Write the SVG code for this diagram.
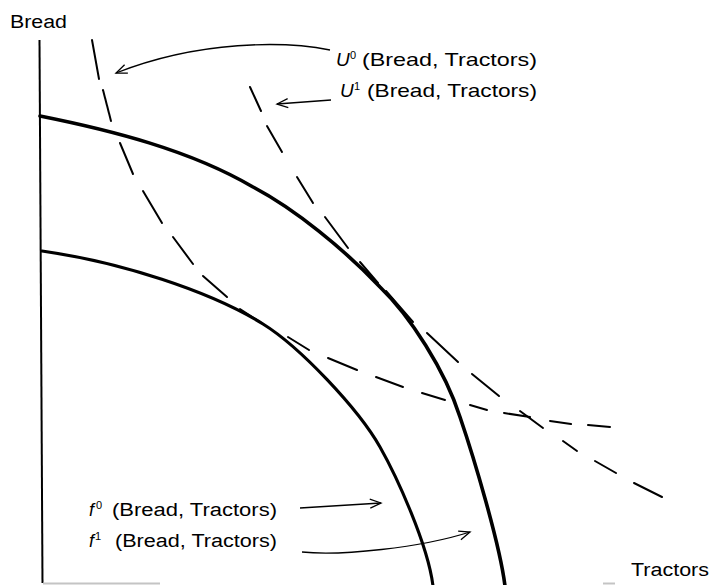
<svg xmlns="http://www.w3.org/2000/svg" width="713" height="585" viewBox="0 0 713 585">
<style>
.axis{fill:none;stroke:#000;stroke-width:2}
.faint{fill:none;stroke:#c4c4c4;stroke-width:2}
.ppf{fill:none;stroke:#000;stroke-linecap:round}
.dash{fill:none;stroke:#000;stroke-width:2;stroke-linecap:round}
.arr{fill:none;stroke:#000;stroke-width:1.3;marker-end:url(#ah)}
.lbl{font-family:"Liberation Sans",Arial,Helvetica,sans-serif;fill:#000}
.it{font-style:italic}
</style>
<defs>
<marker id="ah" markerUnits="userSpaceOnUse" markerWidth="14" markerHeight="12" viewBox="-12 -6 14 12" refX="0" refY="0" orient="auto">
<path d="M-11,-4.5 L0,0 L-11,4.5" fill="none" stroke="#000" stroke-width="1.3"/>
</marker>
</defs>

<g id="axes">
<line class="axis" x1="39.5" y1="40" x2="42.5" y2="583"/>
<line class="faint" x1="43" y1="583.5" x2="160" y2="583.5"/>
<line class="faint" x1="603" y1="583.5" x2="615" y2="583.5"/>
<text class="lbl" x="10" y="28" font-size="18" textLength="57" lengthAdjust="spacingAndGlyphs">Bread</text>
<text class="lbl" x="631" y="576" font-size="18" textLength="78" lengthAdjust="spacingAndGlyphs">Tractors</text>
</g>

<g id="f1-curve">
<path class="ppf" stroke-width="3.6" d="M40,116 C110,130 190,150 253,187 C295,209 345,250 380,287 C410,316 445,370 460,417 C474,458 500,545 505,586"/>
</g>
<g id="f0-curve">
<path class="ppf" stroke-width="3.1" d="M42,251 C120,262 210,291 263,324 C300,347 358,408.5 380,447 C397,477 428,545 433,586"/>
</g>

<g id="U0-curve">
<line class="dash" x1="92" y1="40" x2="99" y2="79"/>
<line class="dash" x1="103" y1="90" x2="111" y2="121"/>
<line class="dash" x1="120" y1="143" x2="133" y2="174"/>
<line class="dash" x1="143" y1="191" x2="162" y2="223"/>
<line class="dash" x1="173" y1="237" x2="193" y2="264"/>
<line class="dash" x1="203" y1="276" x2="227" y2="297"/>
<line class="dash" x1="240" y1="309" x2="263" y2="324"/>
<line class="dash" x1="288" y1="337" x2="309" y2="350"/>
<line class="dash" x1="328" y1="358" x2="357" y2="370"/>
<line class="dash" x1="376" y1="377" x2="403" y2="387"/>
<line class="dash" x1="422" y1="393" x2="445" y2="400"/>
<line class="dash" x1="470" y1="405" x2="487" y2="410"/>
<line class="dash" x1="504" y1="413" x2="530" y2="417"/>
<line class="dash" x1="550" y1="421" x2="571" y2="424"/>
<line class="dash" x1="588" y1="425" x2="610" y2="427"/>
</g>

<g id="U1-curve">
<line class="dash" x1="250" y1="87" x2="261" y2="111"/>
<line class="dash" x1="267" y1="126" x2="282" y2="152"/>
<line class="dash" x1="297" y1="177" x2="313" y2="203"/>
<line class="dash" x1="325" y1="217" x2="348" y2="248"/>
<line class="dash" x1="360" y1="262" x2="378" y2="283"/>
<line class="dash" x1="386" y1="291" x2="413" y2="322"/>
<line class="dash" x1="427" y1="333" x2="458" y2="362"/>
<line class="dash" x1="472" y1="374" x2="499" y2="396"/>
<line class="dash" x1="520" y1="411" x2="543" y2="428"/>
<line class="dash" x1="563" y1="441" x2="577" y2="451"/>
<line class="dash" x1="595" y1="461" x2="616" y2="473"/>
<line class="dash" x1="634" y1="483" x2="662" y2="497"/>
</g>

<g id="label-U0">
<text class="lbl" font-size="19"><tspan class="it" x="336" y="66">U</tspan><tspan x="350" y="59" font-size="11">0</tspan></text>
<text class="lbl" x="362" y="66" font-size="19" textLength="175" lengthAdjust="spacingAndGlyphs">(Bread, Tractors)</text>
</g>
<g id="label-U1">
<text class="lbl" font-size="19"><tspan class="it" x="340" y="97">U</tspan><tspan x="354" y="90" font-size="11">1</tspan></text>
<text class="lbl" x="367" y="97" font-size="19" textLength="170" lengthAdjust="spacingAndGlyphs">(Bread, Tractors)</text>
</g>
<g id="label-f0">
<text class="lbl" font-size="18"><tspan class="it" x="89" y="516">f</tspan><tspan x="96" y="509" font-size="11">0</tspan></text>
<text class="lbl" x="112" y="516" font-size="18" textLength="165" lengthAdjust="spacingAndGlyphs">(Bread, Tractors)</text>
</g>
<g id="label-f1">
<text class="lbl" font-size="18"><tspan class="it" x="89" y="547">f</tspan><tspan x="95" y="540" font-size="11">1</tspan></text>
<text class="lbl" x="115" y="547" font-size="18" textLength="162" lengthAdjust="spacingAndGlyphs">(Bread, Tractors)</text>
</g>

<g id="connectors">
<path class="arr" d="M330,50 C285,41 200,40 116,73"/>
<path class="arr" d="M331,100 L277,104"/>
<path class="arr" d="M300,508 L381,503"/>
<path class="arr" d="M302,552 C340,556 420,548 470,532"/>
</g>
</svg>
